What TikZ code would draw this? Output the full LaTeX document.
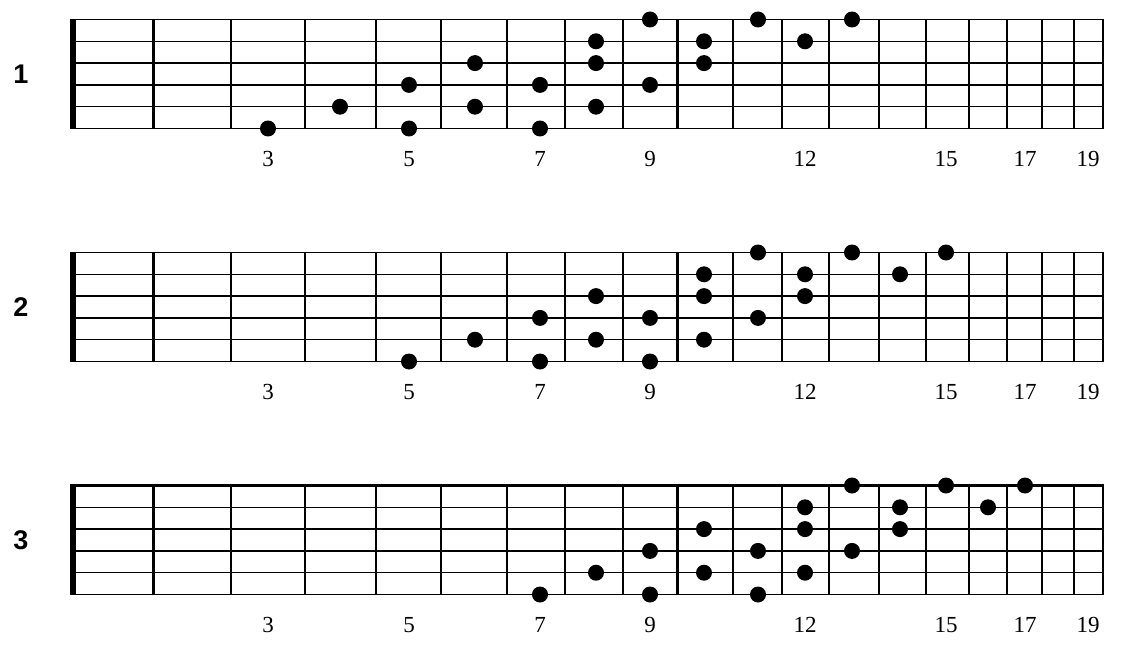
\documentclass[tikz,border=0pt]{standalone}
\usepackage{fontspec}
\setmainfont{Liberation Serif}
\newfontfamily\rowfont{Liberation Sans}

\begin{document}
\begin{tikzpicture}[x=1pt,y=-1pt,
    fretline/.style={line width=2.2pt},
    heavyfret/.style={line width=3pt},
    nutline/.style={line width=6pt},
    thinstring/.style={line width=1.4pt},
    heavystring/.style={line width=2.6pt},
    fingerdot/.style={circle,fill=black,inner sep=0pt,minimum size=16pt},
    fretnum/.style={anchor=base,font=\fontsize{23}{23}\selectfont},
    rowlabel/.style={font=\rowfont\bfseries\fontsize{27}{27}\selectfont}]
    \useasboundingbox (0,0) rectangle (1121,658);

    % three boards, the same pattern moved up two frets each time
    \foreach \row/\top/\heavy/\shift in {1/19.5/{3,4}/0, 2/252.5/{4}/2, 3/485.5/{1,4}/4} {
      \node[rowlabel] (row\row) at (21,\top+54.5) {\row};

      % strings
      \foreach \s in {1,...,6}
        \draw[thinstring] (70,\top+21.8*\s-21.8) -- (1104,\top+21.8*\s-21.8);
      \foreach \s in \heavy
        \draw[heavystring] (70,\top+21.8*\s-21.8) -- (1104,\top+21.8*\s-21.8);

      % frets
      \draw[nutline] (73,\top-0.7) -- (73,\top+109.7);
      \foreach \x in {231,305,376,441,507,565,623,733,782,829,879,926,969,1007,1042,1074,1103}
        \draw[fretline] (\x,\top) -- (\x,\top+109);
      \foreach \x in {153,677}
        \draw[heavyfret] (\x,\top) -- (\x,\top+109);

      % fret numbers
      \foreach \n in {3,5,7,9,12,15,17,19} {
        \pgfmathsetmacro\nx{{0,113,192,268,340,409,475,540,596,650,704,758,805,852,900,946,988,1025,1058,1088}[\n]}
        \node[fretnum] (num\row-\n) at (\nx,\top+146.5) {\n};
      }

      % notes
      \foreach \f/\s in {3/6,4/5,5/4,5/6,6/3,6/5,7/4,7/6,8/2,8/3,8/5,9/1,9/4,10/2,10/3,11/1,12/2,13/1} {
        \pgfmathtruncatemacro\ff{\f+\shift}
        \pgfmathsetmacro\dx{{0,113,192,268,340,409,475,540,596,650,704,758,805,852,900,946,988,1025,1058,1088}[\ff]}
        \node[fingerdot] (dot\row-\ff-\s) at (\dx,\top+21.8*\s-21.8) {};
      }
    }
\end{tikzpicture}
\end{document}
